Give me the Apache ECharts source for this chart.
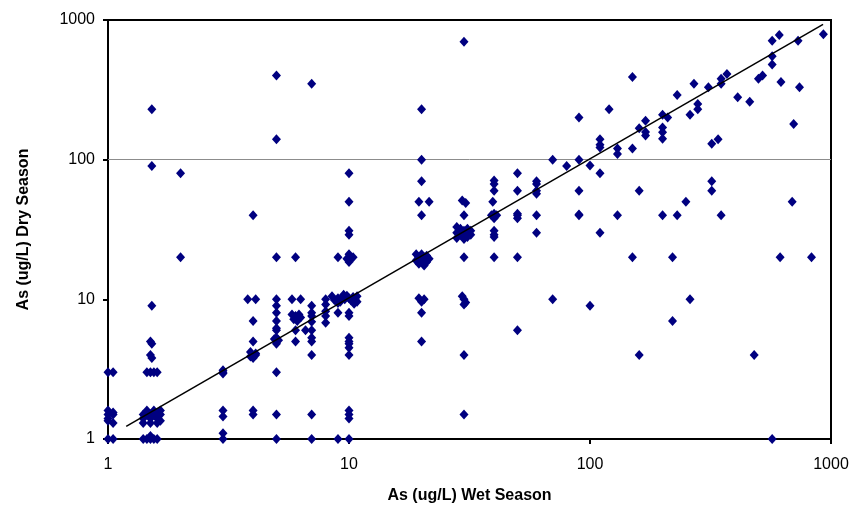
<!DOCTYPE html>
<html>
<head>
<meta charset="utf-8">
<script src="https://cdn.jsdelivr.net/npm/echarts@6/dist/echarts.min.js"></script>
<style>
html,body{margin:0;padding:0;background:#fff;}
#chart{width:854px;height:509px;}
</style>
</head>
<body>
<div id="chart"></div>
<script>
// Wet season (x) and dry season (y) arsenic concentrations, ug/L
const wetX = [
  1,1.05,1,1,1,1.05,1.05,1,1.05,1,1.05,
  1.52,1.52,1.52,1.5,1.52,1.5,1.52,1.45,1.5,1.55,1.6,
  1.4,1.45,1.5,1.55,1.6,1.65,1.4,1.5,1.6,1.4,1.5,1.6,1.65,1.45,1.55,1.65,
  1.4,1.45,1.5,1.55,1.6,1.5,
  2,2,
  3,3,3,3,3,3,3,
  3.8,4.1,4,4,4,3.9,4.1,4,3.9,4.1,4,4,
  5,5,5,5,5,5,5,5,5,5,5,5.1,4.9,5,5,5,5,
  6,5.8,6.3,5.8,6,6.2,6.3,5.9,6.1,6,6,6.6,
  7,7,7,7,7,7,7,7,7,7,7,
  8,8,8,8,8,
  8.5,8.7,9,9.2,9.4,9.6,9.8,10,10.2,10.4,10.6,10.8,9,10.5,9.5,10.8,
  9,9,9,
  10,10,10,10,10,10,10,10,10.4,9.8,10,10,10,10,10,10,10,10,10,10,10,
  20,20,20,19.5,21.5,20,19,20,21,19.5,20.5,21.5,19,20,21,19.5,20.5,19.5,20.5,20,20,20,
  30,29.5,30.5,30,28,29,30,31,32,28,29,30,31,32,28,30,31,30,29.5,30,30.5,30,30,30,
  40,40,40,39.5,39,41,40,40,40,40,40,40,
  50,50,50,50,50,50,50,
  60,60,60,60,60,60,
  70,70,80,
  90,90,90,90,90,
  100,100,
  110,110,110,110,110,120,130,130,130,150,150,150,160,160,160,170,170,170,
  200,200,200,200,200,210,220,220,230,230,250,260,260,270,280,280,
  310,320,320,320,340,350,350,350,370,410,460,480,500,520,
  570,570,570,570,610,615,620,690,700,730,740,830,930
];
const dryY = [
  3,3,1.5,1.4,1.6,1.3,1.5,1.35,1.55,1,1,
  230,90,9,5,4.8,4,3.8,3,3,3,3,
  1.5,1.5,1.5,1.5,1.5,1.5,1.4,1.4,1.4,1.3,1.3,1.3,1.35,1.6,1.6,1.6,
  1,1,1,1,1,1.05,
  80,20,
  3,3.1,2.95,1.6,1.45,1.1,1,
  10,10,40,7,5,4.2,4,3.8,3.9,4.1,1.6,1.5,
  400,140,20,10,9,8,7,6.2,6,5.3,5,5.1,5.2,4.8,3,1.5,1,
  20,10,10,7.8,7.6,7.8,7.4,7.2,7,6,5,6,
  350,9,8,7.6,6.9,6,5.3,5,4,1.5,1,
  10,9.2,8.2,7.6,6.8,
  10.5,9.9,10.2,9.6,10.4,10,10.6,10.2,9.8,10.4,10,10.5,9.4,9.3,10.8,9.6,
  20,8,1,
  80,50,31,29,21,20,19,18.5,20,19.5,8,7.6,5.3,5,4.8,4.5,4,1.6,1.5,1.4,1,
  230,100,70,50,50,40,21,21,20.5,20,20,19.5,19,19,18.5,18,17.5,10.2,10,9.6,8,5,
  700,51,49,40,33,32,31,32,31,30,29,29.5,28,29,27.5,27,30,20,10.5,10,9.5,9.2,4,1.5,
  71,67,60,50,40,40,38,41,31,29,28,20,
  80,60,41,40,38,20,6,
  70,67,60,57,40,30,
  100,10,90,
  200,100,60,40,40.5,
  91,9,
  140,128,122,80,30,230,120,110,40,390,120,20,168,60,4,190,158,149,
  210,170,157,141,40,200,20,7,290,40,50,210,10,350,250,230,
  330,130,70,60,140,380,350,40,410,280,260,4,380,400,
  710,550,480,1,780,20,360,50,180,710,330,20,790
];
// fitted line end points
const fitX = [1.19, 927];
const fitY = [1.23, 930];
const tickLabels = ['1', '10', '100', '1000'];
const gridValue = 100;

const n = Math.min(wetX.length, dryY.length);
const points = wetX.slice(0, n).map((x, i) => [x, dryY[i]]);
const fitLine = fitX.map((x, i) => [x, fitY[i]]);

const chart = echarts.init(document.getElementById('chart'), null, {renderer: 'canvas'});
const font = '"Liberation Sans", Arial, sans-serif';
const axisCommon = {
  type: 'log', logBase: 10, min: 1, max: 1000,
  axisLine: {show: true, lineStyle: {color: '#000', width: 2}},
  axisTick: {show: true, inside: false, length: 5, lineStyle: {color: '#000', width: 2}},
  splitLine: {show: false},
  minorTick: {show: false},
  axisLabel: {color: '#000', fontSize: 16, fontFamily: font,
    formatter: v => { const i = Math.round(Math.log10(v)); return tickLabels[i] !== undefined ? tickLabels[i] : ''; }},
  nameLocation: 'middle',
  nameTextStyle: {color: '#000', fontSize: 16, fontWeight: 'bold', fontFamily: font}
};
chart.setOption({
  animation: false,
  backgroundColor: '#fff',
  grid: {left: 108, right: 23, top: 20, bottom: 66, show: true, borderColor: '#000', borderWidth: 2, backgroundColor: 'transparent'},
  xAxis: Object.assign({}, axisCommon, {
    name: 'As (ug/L) Wet Season', nameGap: 49,
    axisLabel: Object.assign({}, axisCommon.axisLabel, {margin: 18})
  }),
  yAxis: Object.assign({}, axisCommon, {
    name: 'As (ug/L) Dry Season', nameGap: 76, nameRotate: 90,
    axisLabel: Object.assign({}, axisCommon.axisLabel, {margin: 13})
  }),
  series: [
    {
      type: 'scatter', data: points, symbol: 'diamond', symbolSize: [9, 10],
      itemStyle: {color: '#000080', opacity: 1}, z: 3,
      markLine: {
        silent: true, symbol: ['none', 'none'], label: {show: false},
        lineStyle: {color: '#8c8c8c', width: 1, type: 'solid'},
        data: [{yAxis: gridValue}], z: 1
      }
    },
    {
      type: 'line', data: fitLine, symbol: 'none', showSymbol: false,
      lineStyle: {color: '#000', width: 1.5}, z: 4
    }
  ]
});
</script>
</body>
</html>
